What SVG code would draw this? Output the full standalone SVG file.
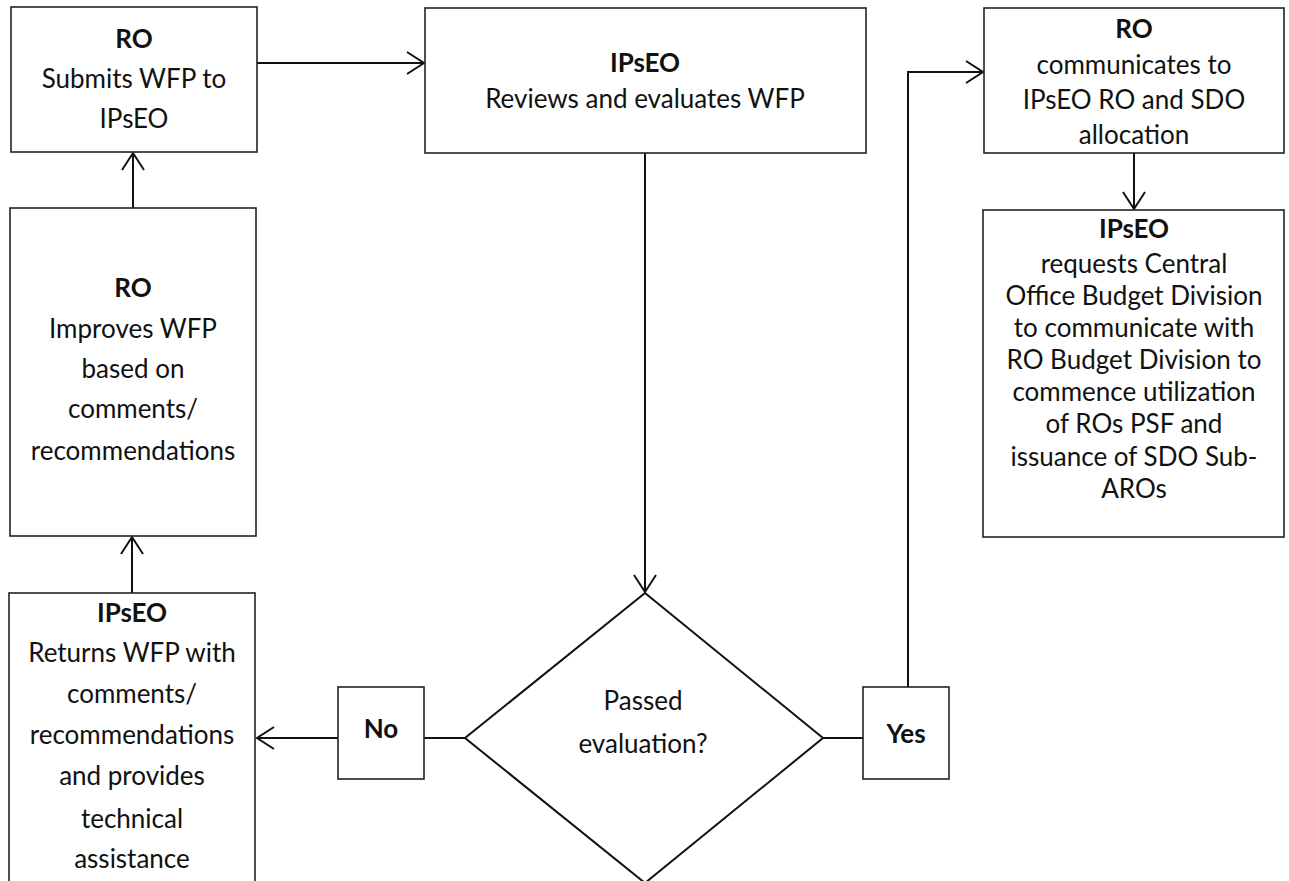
<svg xmlns="http://www.w3.org/2000/svg" width="1289" height="881" viewBox="0 0 1289 881">
<defs>
<style>
.box{fill:#fff;stroke:#222;stroke-width:1.6}
.t{font-family:Lato,"Open Sans","Liberation Sans",sans-serif;font-size:26px;fill:#111;text-anchor:middle}
.b{font-weight:bold}
.c{fill:none;stroke:#111;stroke-width:2}
</style>
<marker id="ah" markerUnits="userSpaceOnUse" markerWidth="20" markerHeight="24" refX="17" refY="11" orient="auto" overflow="visible">
<path d="M0,0 L17,11 L0,22" fill="none" stroke="#111" stroke-width="2"/>
</marker>
</defs>
<rect width="1289" height="881" fill="#fff"/>
<g id="connectors">
<line class="c" x1="257" y1="63" x2="424" y2="63" marker-end="url(#ah)"/>
<line class="c" x1="645" y1="153" x2="645" y2="592" marker-end="url(#ah)"/>
<line class="c" x1="465" y1="738" x2="424" y2="738"/>
<line class="c" x1="338" y1="738" x2="257" y2="738" marker-end="url(#ah)"/>
<line class="c" x1="132" y1="593" x2="132" y2="537" marker-end="url(#ah)"/>
<line class="c" x1="133" y1="208" x2="133" y2="153" marker-end="url(#ah)"/>
<line class="c" x1="823" y1="738" x2="863" y2="738"/>
<polyline class="c" points="908,687 908,72 983,72" marker-end="url(#ah)"/>
<line class="c" x1="1134" y1="153" x2="1134" y2="209" marker-end="url(#ah)"/>
</g>
<g id="n1">
<rect class="box" x="11" y="7" width="246" height="145"/>
<text class="t b" x="134" y="48">RO</text>
<text class="t" x="134" y="88">Submits WFP to</text>
<text class="t" x="134" y="128">IPsEO</text>
</g>
<g id="n2">
<rect class="box" x="425" y="8" width="441" height="145"/>
<text class="t b" x="645" y="72">IPsEO</text>
<text class="t" x="645" y="108">Reviews and evaluates WFP</text>
</g>
<g id="n3">
<rect class="box" x="984" y="8" width="300" height="145"/>
<text class="t b" x="1134" y="38">RO</text>
<text class="t" x="1134" y="74">communicates to</text>
<text class="t" x="1134" y="109">IPsEO RO and SDO</text>
<text class="t" x="1134" y="144">allocation</text>
</g>
<g id="n4">
<rect class="box" x="983" y="210" width="301" height="327"/>
<text class="t b" x="1134" y="238">IPsEO</text>
<text class="t" x="1134" y="273">requests Central</text>
<text class="t" x="1134" y="305">Office Budget Division</text>
<text class="t" x="1134" y="337">to communicate with</text>
<text class="t" x="1134" y="369">RO Budget Division to</text>
<text class="t" x="1134" y="401">commence utilization</text>
<text class="t" x="1134" y="433">of ROs PSF and</text>
<text class="t" x="1134" y="466">issuance of SDO Sub-</text>
<text class="t" x="1134" y="498">AROs</text>
</g>
<g id="n5">
<rect class="box" x="10" y="208" width="246" height="328"/>
<text class="t b" x="133" y="297">RO</text>
<text class="t" x="133" y="338">Improves WFP</text>
<text class="t" x="133" y="378">based on</text>
<text class="t" x="133" y="418">comments/</text>
<text class="t" x="133" y="460">recommendations</text>
</g>
<g id="n6">
<rect class="box" x="9" y="593" width="246" height="300"/>
<text class="t b" x="132" y="622">IPsEO</text>
<text class="t" x="132" y="662">Returns WFP with</text>
<text class="t" x="132" y="703">comments/</text>
<text class="t" x="132" y="744">recommendations</text>
<text class="t" x="132" y="785">and provides</text>
<text class="t" x="132" y="828">technical</text>
<text class="t" x="132" y="868">assistance</text>
</g>
<g id="n7">
<polygon points="645,593 823,738 645,883 465,738" fill="#fff" stroke="#111" stroke-width="2"/>
<text class="t" x="643" y="710">Passed</text>
<text class="t" x="643" y="753">evaluation?</text>
</g>
<g id="n8">
<rect class="box" x="338" y="687" width="86" height="92"/>
<text class="t b" x="381" y="738">No</text>
</g>
<g id="n9">
<rect class="box" x="863" y="687" width="86" height="92"/>
<text class="t b" x="906" y="743">Yes</text>
</g>
</svg>
